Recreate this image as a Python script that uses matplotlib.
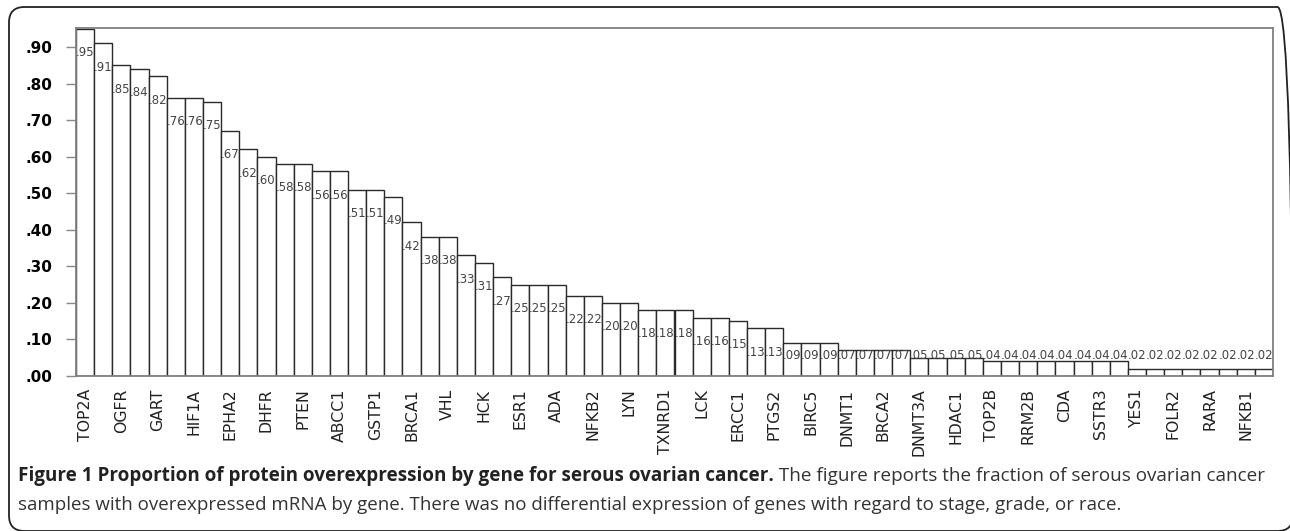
import numpy as np
import matplotlib
matplotlib.use("Agg")
import matplotlib.pyplot as plt
from matplotlib.patches import FancyBboxPatch

# proportions (one bar per gene, sorted)
values = [.95, .91, .85, .84, .82, .76, .76, .75, .67, .62, .60, .58, .58, .56, .56,
          .51, .51, .49, .42, .38, .38, .33, .31, .27, .25, .25, .25, .22, .22, .20,
          .20, .18, .18, .18, .16, .16, .15, .13, .13, .09, .09, .09, .07, .07, .07,
          .07, .05, .05, .05, .05, .04, .04, .04, .04, .04, .04, .04, .04, .02, .02,
          .02, .02, .02, .02, .02, .02]
# only every other bar carries a gene name on the axis
gene_labels = ["TOP2A", "OGFR", "GART", "HIF1A", "EPHA2", "DHFR", "PTEN", "ABCC1",
               "GSTP1", "BRCA1", "VHL", "HCK", "ESR1", "ADA", "NFKB2", "LYN", "TXNRD1",
               "LCK", "ERCC1", "PTGS2", "BIRC5", "DNMT1", "BRCA2", "DNMT3A", "HDAC1",
               "TOP2B", "RRM2B", "CDA", "SSTR3", "YES1", "FOLR2", "RARA", "NFKB1"]
yticks = [0, .1, .2, .3, .4, .5, .6, .7, .8, .9]

W, H = 1290, 531
fig = plt.figure(figsize=(W / 100, H / 100), dpi=100)

# outer rounded frame of the figure panel (runs just past right/bottom edges)
frame = FancyBboxPatch((9 / W, 1 - 531 / H), (1293 - 9) / W, (531 - 7) / H,
                       transform=fig.transFigure,
                       boxstyle="round,pad=0,rounding_size=0.012", fc="none",
                       ec="#222222", lw=1.3, mutation_aspect=W / H)
fig.patches.append(frame)

ax = fig.add_axes([76 / W, 1 - 376 / H, (1273 - 76) / W, (376 - 28) / H])
x = np.arange(len(values))
ax.bar(x, values, width=1.0, color="white", edgecolor="#2a2a2a", linewidth=1.0, zorder=2)

for xi, v in zip(x, values):
    ypos = max(v - 0.065, 0.055)
    ax.text(xi, ypos, ("%.2f" % v)[1:], ha="center", va="center", fontsize=8.5,
            color="#444444", zorder=3)

ax.set_xlim(-0.5, len(values) - 0.5)
ax.set_ylim(0, 0.952)
ax.set_yticks(yticks)
ax.set_yticklabels([("%.2f" % t)[1:] for t in yticks], fontsize=11, fontweight="bold")
ax.set_xticks(x[::2])
ax.set_xticklabels(gene_labels, rotation=90, fontsize=11.3, color="#222222")
ax.tick_params(axis="y", length=7, width=1, color="#888888", pad=10)
ax.tick_params(axis="x", length=0, pad=9)
for side in ["left", "bottom", "top", "right"]:
    ax.spines[side].set_color("#808080")
    ax.spines[side].set_linewidth(1.3)

# caption: bold lead-in followed by regular text
cap_bold = "Figure 1 Proportion of protein overexpression by gene for serous ovarian cancer."
cap_rest = " The figure reports the fraction of serous ovarian cancer"
cap_line2 = ("samples with overexpressed mRNA by gene. There was no differential expression "
             "of genes with regard to stage, grade, or race.")
t1 = fig.text(18 / W, 1 - 476 / H, cap_bold, fontsize=13.6, fontweight="bold",
              family="Open Sans", va="center", color="#222222")
fig.canvas.draw()
bb = t1.get_window_extent(fig.canvas.get_renderer())
fig.text(bb.x1 / W, 1 - 476 / H, cap_rest, fontsize=13.6, family="Open Sans",
         va="center", color="#333333")
fig.text(18 / W, 1 - 505 / H, cap_line2, fontsize=13.5, family="Open Sans",
         va="center", color="#333333")

fig.savefig("out.png", dpi=100)
